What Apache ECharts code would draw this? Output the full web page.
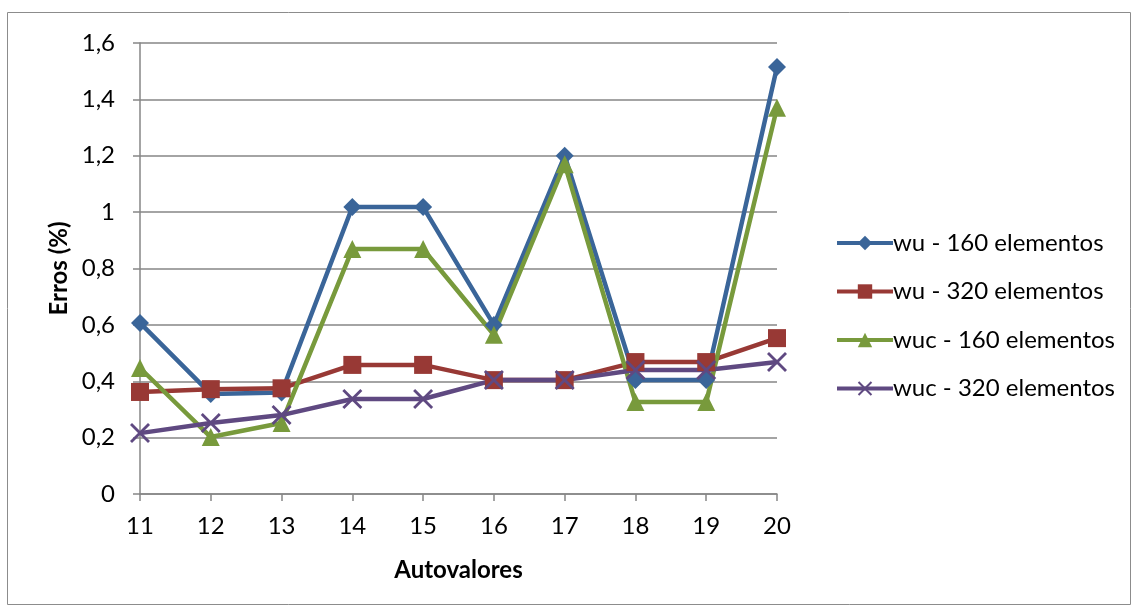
<!DOCTYPE html>
<html>
<head>
<meta charset="utf-8">
<script src="https://cdn.jsdelivr.net/npm/echarts@6/dist/echarts.min.js"></script>
<style>
    html, body { margin: 0; padding: 0; background: #fff; }
    #chart { width: 1138px; height: 611px; }
</style>
</head>
<body>
<div id="chart"></div>
<script>
// dados
var autovalores = ['11', '12', '13', '14', '15', '16', '17', '18', '19', '20'];
var wu160 = [0.607, 0.355, 0.36, 1.018, 1.018, 0.60, 1.20, 0.404, 0.404, 1.515];
var wu320 = [0.362, 0.372, 0.375, 0.458, 0.458, 0.404, 0.404, 0.468, 0.468, 0.553];
var wuc160 = [0.447, 0.202, 0.252, 0.869, 0.869, 0.565, 1.17, 0.326, 0.326, 1.37];
var wuc320 = [0.216, 0.252, 0.28, 0.337, 0.337, 0.404, 0.404, 0.44, 0.44, 0.468];
var nomes = ['wu - 160 elementos', 'wu - 320 elementos', 'wuc - 160 elementos', 'wuc - 320 elementos'];

var fonte = 'Lato, "Open Sans", sans-serif';
var xMarker = 'path://M0,1L1,0L5,4L9,0L10,1L6,5L10,9L9,10L5,6L1,10L0,9L4,5Z';

function serie(nome, dados, cor, simbolo, tam) {
    return {
        name: nome,
        type: 'line',
        data: dados,
        symbol: simbolo,
        symbolSize: tam,
        showAllSymbol: true,
        lineStyle: { color: cor, width: 4.5 },
        itemStyle: { color: cor },
        emphasis: { disabled: true }
    };
}

var grafico = echarts.init(document.getElementById('chart'));
var opcao = {
    animation: false,
    textStyle: { fontFamily: fonte },
    graphic: [{
        type: 'rect',
        shape: { x: 7.5, y: 12.5, width: 1123, height: 592 },
        style: { fill: 'none', stroke: '#8c8c8c', lineWidth: 1 },
        silent: true
    }],
    grid: { left: 140, right: 361, top: 43, bottom: 117, containLabel: false },
    legend: {
        orient: 'vertical',
        left: 830,
        top: 226,
        itemWidth: 56,
        itemHeight: 18,
        itemGap: 24.5,
        lineStyle: { width: 4 },
        textStyle: { fontFamily: fonte, fontSize: 24, color: '#000', padding: [0, 0, 0, -5] },
        data: nomes
    },
    xAxis: {
        type: 'category',
        data: autovalores,
        boundaryGap: false,
        name: 'Autovalores',
        nameLocation: 'middle',
        nameGap: 64,
        nameTextStyle: { fontFamily: fonte, fontSize: 24, fontWeight: 'bold', color: '#000' },
        axisLine: { lineStyle: { color: '#868686', width: 1.5 } },
        axisTick: { show: true, inside: false, length: 7, lineStyle: { color: '#868686', width: 1.5 } },
        axisLabel: { fontFamily: fonte, fontSize: 24, color: '#000', margin: 20 },
        splitLine: { show: false }
    },
    yAxis: {
        type: 'value',
        min: 0,
        max: 1.6,
        interval: 0.2,
        name: 'Erros (%)',
        nameLocation: 'middle',
        nameGap: 68,
        nameRotate: 90,
        nameTextStyle: { fontFamily: fonte, fontSize: 24, fontWeight: 'bold', color: '#000' },
        axisLine: { show: true, lineStyle: { color: '#868686', width: 1.5 } },
        axisTick: { show: true, length: 7, lineStyle: { color: '#868686', width: 1.5 } },
        axisLabel: {
            fontFamily: fonte, fontSize: 24, color: '#000', margin: 25,
            formatter: function (v) {
                return String(Math.round(v * 10) / 10).replace('.', ',');
            }
        },
        splitLine: { lineStyle: { color: '#868686', width: 1.5 } }
    },
    series: [
        serie(nomes[0], wu160, '#3A6599', 'diamond', 18),
        serie(nomes[1], wu320, '#983935', 'rect', 18),
        serie(nomes[2], wuc160, '#789A3C', 'triangle', 18),
        serie(nomes[3], wuc320, '#5F4981', xMarker, 20)
    ]
};
grafico.setOption(opcao);
</script>
</body>
</html>
